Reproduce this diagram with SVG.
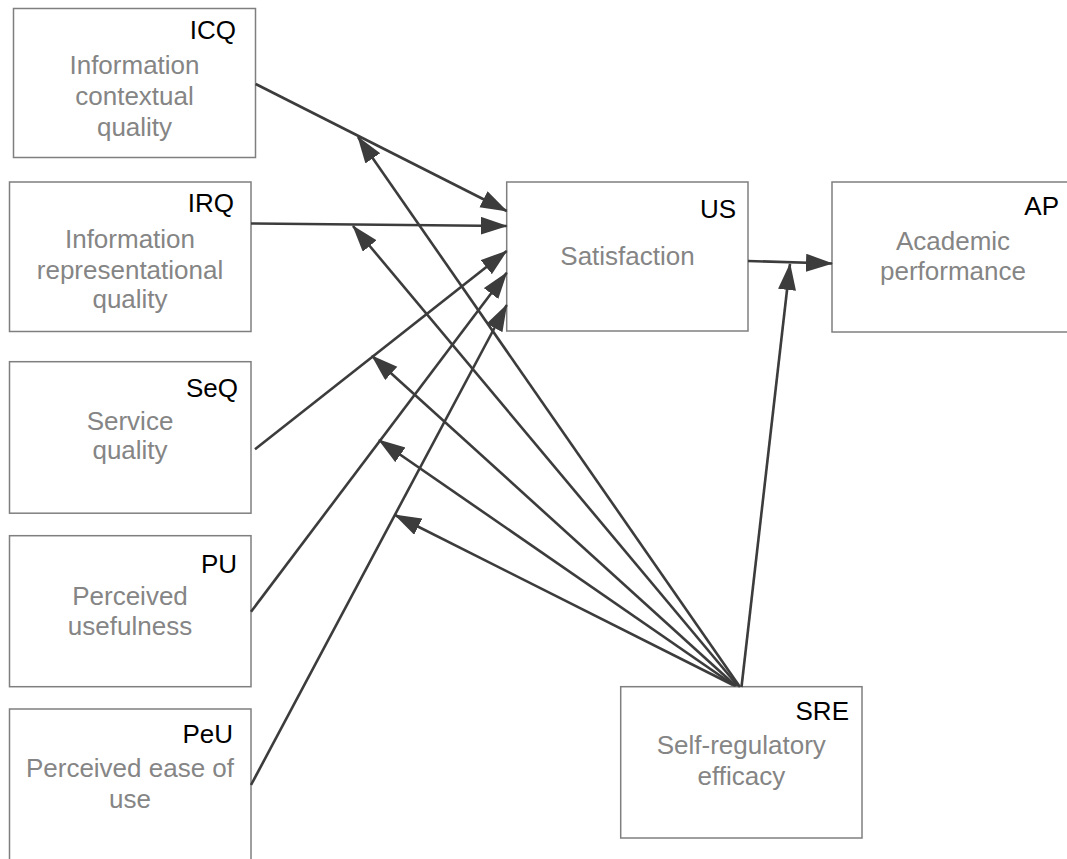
<svg xmlns="http://www.w3.org/2000/svg" width="1067" height="859" viewBox="0 0 1067 859">
  <style>
    .box { fill: #ffffff; stroke: #7f7f7f; stroke-width: 1.5; }
    .code { font-family: "Liberation Sans", Arial, sans-serif; font-size: 26px; fill: #000000; text-anchor: end; }
    .desc { font-family: "Liberation Sans", Arial, sans-serif; font-size: 26px; fill: #858585; text-anchor: middle; }
    .link { fill: none; stroke: #3c3c3c; stroke-width: 2.6; marker-end: url(#arrow); }
  </style>
  <defs>
    <marker id="arrow" markerUnits="userSpaceOnUse" markerWidth="28" markerHeight="19" refX="26" refY="9" orient="auto">
      <path d="M0,0 L27,9 L0,18 Z" fill="#3c3c3c"/>
    </marker>
  </defs>
  <rect width="1067" height="859" fill="#ffffff"/>

  <!-- construct boxes -->
  <g id="ICQ">
    <rect class="box" x="13.5" y="8.5" width="242" height="149"/>
    <text class="code" x="236" y="39">ICQ</text>
    <text class="desc" x="134.5" y="74">Information</text>
    <text class="desc" x="134.5" y="105">contextual</text>
    <text class="desc" x="134.5" y="136">quality</text>
  </g>
  <g id="IRQ">
    <rect class="box" x="9.5" y="182" width="241.5" height="149.5"/>
    <text class="code" x="234" y="211.5">IRQ</text>
    <text class="desc" x="130" y="248">Information</text>
    <text class="desc" x="130" y="279">representational</text>
    <text class="desc" x="130" y="308">quality</text>
  </g>
  <g id="SeQ">
    <rect class="box" x="9.5" y="361.7" width="241.5" height="151.5"/>
    <text class="code" x="238" y="397">SeQ</text>
    <text class="desc" x="130" y="430">Service</text>
    <text class="desc" x="130" y="459">quality</text>
  </g>
  <g id="PU">
    <rect class="box" x="9.5" y="535.7" width="241.5" height="151"/>
    <text class="code" x="237" y="573">PU</text>
    <text class="desc" x="130" y="605">Perceived</text>
    <text class="desc" x="130" y="635">usefulness</text>
  </g>
  <g id="PeU">
    <rect class="box" x="9.5" y="709" width="241.5" height="160"/>
    <text class="code" x="233" y="743">PeU</text>
    <text class="desc" x="130" y="777">Perceived ease of</text>
    <text class="desc" x="130" y="808">use</text>
  </g>
  <g id="US">
    <rect class="box" x="506.7" y="182" width="241.3" height="149"/>
    <text class="code" x="736" y="218">US</text>
    <text class="desc" x="627.5" y="265">Satisfaction</text>
  </g>
  <g id="AP">
    <rect class="box" x="832" y="182" width="241" height="150"/>
    <text class="code" x="1059" y="215">AP</text>
    <text class="desc" x="953" y="250">Academic</text>
    <text class="desc" x="953" y="280">performance</text>
  </g>
  <g id="SRE">
    <rect class="box" x="620.7" y="686.7" width="241.3" height="151.3"/>
    <text class="code" x="849" y="720">SRE</text>
    <text class="desc" x="741.3" y="754">Self-regulatory</text>
    <text class="desc" x="741.3" y="785">efficacy</text>
  </g>

  <!-- paths between constructs -->
  <g id="connectors">
    <path class="link" d="M255.7,84 L506.7,211"/>
    <path class="link" d="M251,223.5 L506.7,226"/>
    <path class="link" d="M255,449.3 L506.7,251"/>
    <path class="link" d="M251,611.7 L506.7,272.7"/>
    <path class="link" d="M251,785 L506.7,305"/>
    <path class="link" d="M748,261 L832,263.5"/>
    <path class="link" d="M741.5,687 L790,264"/>
    <!-- moderating effects of SRE -->
    <path class="link" d="M740,687 L358,137"/>
    <path class="link" d="M738,686 L353,226"/>
    <path class="link" d="M736,686 L372,356"/>
    <path class="link" d="M735,686 L379,440"/>
    <path class="link" d="M733,685 L395,515"/>
  </g>
</svg>
